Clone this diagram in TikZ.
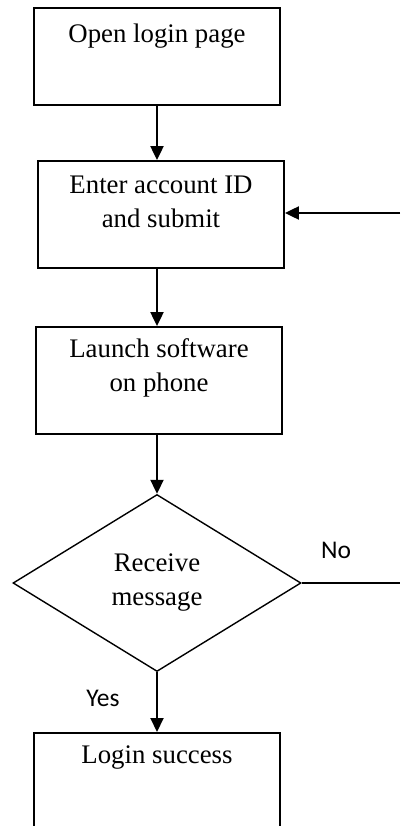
\documentclass[tikz,border=0pt]{standalone}
\usepackage{fontspec}
\setmainfont{Liberation Serif}
\newfontfamily\labfont{Carlito}
\usetikzlibrary{shapes.geometric,arrows.meta}
\begin{document}
\begin{tikzpicture}[x=1pt,y=-1pt,
  stepbox/.style={draw, line width=1.8pt, rectangle, minimum width=246pt, inner sep=0pt},
  boxtext/.style={font=\fontsize{26.8}{34}\selectfont, align=center, inner sep=0pt},
  decision/.style={draw, line width=1.4pt, diamond, aspect=1.6, minimum width=288pt, minimum height=177pt, inner sep=0pt,
    font=\fontsize{26.8}{34}\selectfont, align=center},
  flow/.style={line width=2pt, -{Triangle[length=14pt,width=13pt]}},
  plain/.style={line width=1.4pt},
  branch/.style={font=\labfont\fontsize{25.5}{30}\selectfont, inner sep=0pt}]
  \useasboundingbox (0,0) rectangle (400,826);
  \clip (0,0) rectangle (400,826);
  \fill[white] (0,0) rectangle (400,826);

  % process boxes
  \node[stepbox, minimum height=97pt] (b1) at (157,56.5) {};
  \node[boxtext] (t1) at (157,36) {Open login page};
  \node[stepbox, minimum height=107pt] (b2) at (161,214.5) {};
  \node[boxtext] (t2) at (161,202) {Enter account ID\\and submit};
  \node[stepbox, minimum height=107pt] (b3) at (159,380.5) {};
  \node[boxtext] (t3) at (159,368) {Launch software\\on phone};

  % decision
  \node[decision] (d) at (157,583) {Receive\\message};

  % final box (runs past the lower edge)
  \node[stepbox, minimum height=140pt, anchor=north] (b4) at (157,732) {};
  \node[boxtext] (t4) at (157,758) {Login success};

  % loop-back ends
  \coordinate (inR) at (400,213);
  \coordinate (noR) at (400,583);

  % connectors
  \draw[flow] (b1.south) -- (b2.north -| b1.south);
  \draw[flow] (b2.south -| b1.south) -- (b3.north -| b1.south);
  \draw[flow] (b3.south -| d.north) -- (d.north);
  \draw[flow] (d.south) -- (b4.north -| d.south);
  \draw[flow] (inR) -- (b2.east |- inR);
  \draw[plain] (d.east) -- (noR);

  % branch labels
  \node[branch] (no) at (336,550) {No};
  \node[branch] (yes) at (103,698) {Yes};
\end{tikzpicture}
\end{document}
